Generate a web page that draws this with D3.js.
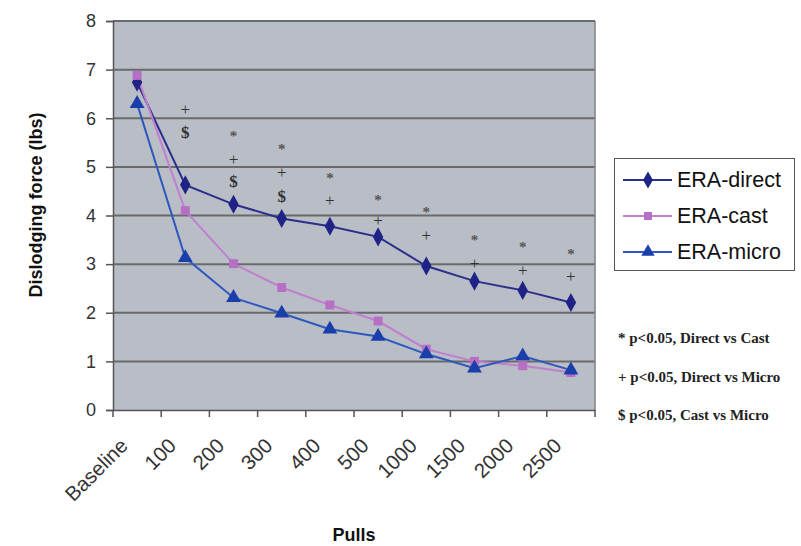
<!DOCTYPE html>
<html>
<head>
<meta charset="utf-8">
<script src="https://cdn.jsdelivr.net/npm/d3@7"></script>
<style>
  body { margin: 0; background: #fff; }
  svg { display: block; }
</style>
</head>
<body>
<div id="chart"></div>
<script>
const categories = ["Baseline", "100", "200", "300", "400", "500", "1000", "1500", "2000", "2500"];
const eraDirect = [6.74, 4.63, 4.23, 3.94, 3.78, 3.56, 2.96, 2.65, 2.46, 2.21];
const eraCast   = [6.88, 4.10, 3.01, 2.52, 2.16, 1.83, 1.25, 1.00, 0.91, 0.77];
const eraMicro  = [6.30, 3.13, 2.31, 1.99, 1.66, 1.51, 1.15, 0.86, 1.11, 0.82];
// significance marks, drawn above the points (null = none)
const sigDirectCast  = [null, null, 5.69, 5.41, 4.83, 4.38, 4.12, 3.55, 3.41, 3.26];
const sigDirectMicro = [null, 6.18, 5.15, 4.88, 4.31, 3.89, 3.59, 3.02, 2.87, 2.75];
const sigCastMicro   = [null, 5.71, 4.70, 4.39, null, null, null, null, null, null];
const yTicks = [0, 1, 2, 3, 4, 5, 6, 7, 8];
const notes = ["* p<0.05, Direct vs Cast", "+ p<0.05, Direct vs Micro", "$ p<0.05, Cast vs Micro"];

const width = 801, height = 546;
const plot = { left: 113, right: 595, top: 21, bottom: 410 };

const svg = d3.select("#chart").append("svg")
    .attr("width", width)
    .attr("height", height);

const x = d3.scaleBand()
    .domain(categories)
    .range([plot.left, plot.right]);

const y = d3.scaleLinear()
    .domain([0, 8])
    .range([plot.bottom, plot.top]);

// plot background
svg.append("rect")
    .attr("x", plot.left).attr("y", plot.top)
    .attr("width", plot.right - plot.left)
    .attr("height", plot.bottom - plot.top)
    .attr("fill", "#b8bdc6");

// gridlines
svg.append("g")
    .selectAll("line")
    .data(yTicks.filter(d => d > 0))
    .enter().append("line")
    .attr("x1", plot.left).attr("x2", plot.right)
    .attr("y1", d => y(d)).attr("y2", d => y(d))
    .attr("stroke", "#6a6a6a")
    .attr("stroke-width", 2);

// right border
svg.append("line")
    .attr("x1", plot.right).attr("x2", plot.right)
    .attr("y1", plot.top).attr("y2", plot.bottom)
    .attr("stroke", "#808080").attr("stroke-width", 1.5);

// y axis
const yAxis = svg.append("g")
    .attr("transform", `translate(${plot.left},0)`)
    .call(d3.axisLeft(y).tickValues(yTicks).tickSize(7).tickPadding(10));
yAxis.selectAll("text")
    .attr("font-family", "Liberation Sans, Arial, sans-serif")
    .attr("font-size", 18)
    .attr("fill", "#333");

// x axis
const xAxis = svg.append("g")
    .attr("transform", `translate(0,${plot.bottom})`)
    .call(d3.axisBottom(x).tickSize(0).tickFormat(""));
xAxis.selectAll(".tick").remove();
xAxis.append("g")
    .selectAll("line")
    .data(categories.concat(["end"]))
    .enter().append("line")
    .attr("x1", (d, i) => i < categories.length ? x(d) : plot.right)
    .attr("x2", (d, i) => i < categories.length ? x(d) : plot.right)
    .attr("y1", 0).attr("y2", 7)
    .attr("stroke", "#555");

xAxis.selectAll(".domain, line").attr("stroke", "#555").attr("stroke-width", 1.5);
yAxis.selectAll(".domain, line").attr("stroke", "#555").attr("stroke-width", 1.5);

svg.append("g")
    .selectAll("text")
    .data(categories)
    .enter().append("text")
    .attr("transform", d => `translate(${x(d) + x.bandwidth() / 2 - 8},${plot.bottom + 37}) rotate(-45)`)
    .attr("text-anchor", "end")
    .attr("font-family", "Liberation Sans, Arial, sans-serif")
    .attr("font-size", 20.5)
    .attr("fill", "#333")
    .text(d => d);

// axis titles
svg.append("text")
    .attr("transform", `translate(42,205) rotate(-90)`)
    .attr("text-anchor", "middle")
    .attr("font-family", "Liberation Sans, Arial, sans-serif")
    .attr("font-weight", "bold")
    .attr("font-size", 18)
    .attr("fill", "#111")
    .text("Dislodging force (lbs)");

svg.append("text")
    .attr("x", (plot.left + plot.right) / 2)
    .attr("y", 541)
    .attr("text-anchor", "middle")
    .attr("font-family", "Liberation Sans, Arial, sans-serif")
    .attr("font-weight", "bold")
    .attr("font-size", 18)
    .attr("fill", "#111")
    .text("Pulls");

// series
const cx = d => x(d) + x.bandwidth() / 2;
const series = [
  { name: "ERA-direct", values: eraDirect, line: "#2a2f8c", fill: "#1f2385", symbol: d3.symbolDiamond, size: 105 },
  { name: "ERA-cast",   values: eraCast,   line: "#c17fd0", fill: "#b66fc4", symbol: d3.symbolSquare,  size: 80 },
  { name: "ERA-micro",  values: eraMicro,  line: "#2d58bd", fill: "#1b3faa", symbol: d3.symbolTriangle, size: 95 }
];

const line = d3.line()
    .x((d, i) => cx(categories[i]))
    .y(d => y(d));

series.forEach(s => {
  svg.append("path")
      .datum(s.values)
      .attr("d", line)
      .attr("fill", "none")
      .attr("stroke", s.line)
      .attr("stroke-width", 2);
});

series.forEach(s => {
  svg.append("g")
      .selectAll("path")
      .data(s.values)
      .enter().append("path")
      .attr("transform", (d, i) => {
        const sx = s.symbol === d3.symbolDiamond ? " scale(0.95,1)" : "";
        return `translate(${cx(categories[i])},${y(d)})` + sx;
      })
      .attr("d", d3.symbol().type(s.symbol).size(s.size))
      .attr("fill", s.fill);
});

// significance marks
const marks = [
  { values: sigDirectCast, glyph: "*", dy: 2.5, size: 15, color: "#555", weight: "bold" },
  { values: sigDirectMicro, glyph: "+", dy: 0, size: 17, color: "#333", weight: "normal" },
  { values: sigCastMicro, glyph: "$", dy: 0, size: 17, color: "#333", weight: "bold" }
];
marks.forEach(m => {
  svg.append("g")
      .selectAll("text")
      .data(m.values.map((v, i) => ({ v, c: categories[i] })).filter(d => d.v != null))
      .enter().append("text")
      .attr("x", d => cx(d.c))
      .attr("y", d => y(d.v) + m.dy)
      .attr("dominant-baseline", "central")
      .attr("text-anchor", "middle")
      .attr("font-family", "Liberation Serif, Times New Roman, serif")
      .attr("font-weight", m.weight)
      .attr("font-size", m.size)
      .attr("fill", m.color)
      .text(m.glyph);
});

// legend
const legend = svg.append("g");
legend.append("rect")
    .attr("x", 614.5).attr("y", 158.5)
    .attr("width", 180).attr("height", 112)
    .attr("fill", "#fff")
    .attr("stroke", "#555");
series.forEach((s, i) => {
  const ly = 180 + i * 36;
  legend.append("line")
      .attr("x1", 623).attr("x2", 672)
      .attr("y1", ly).attr("y2", ly)
      .attr("stroke", s.line).attr("stroke-width", 2);
  legend.append("path")
      .attr("transform", `translate(648,${ly})`)
      .attr("d", d3.symbol().type(s.symbol).size(s.size * 0.8))
      .attr("fill", s.fill);
  legend.append("text")
      .attr("x", 677).attr("y", ly)
      .attr("dominant-baseline", "central")
      .attr("font-family", "Liberation Sans, Arial, sans-serif")
      .attr("font-size", 21.5)
      .attr("fill", "#111")
      .text(s.name);
});

// notes
svg.append("g")
    .selectAll("text")
    .data(notes)
    .enter().append("text")
    .attr("x", 618)
    .attr("y", (d, i) => 338 + i * 38.5)
    .attr("dominant-baseline", "central")
    .attr("font-family", "Liberation Serif, Times New Roman, serif")
    .attr("font-weight", "bold")
    .attr("font-size", 15)
    .attr("fill", "#222")
    .text(d => d);
</script>
</body>
</html>
